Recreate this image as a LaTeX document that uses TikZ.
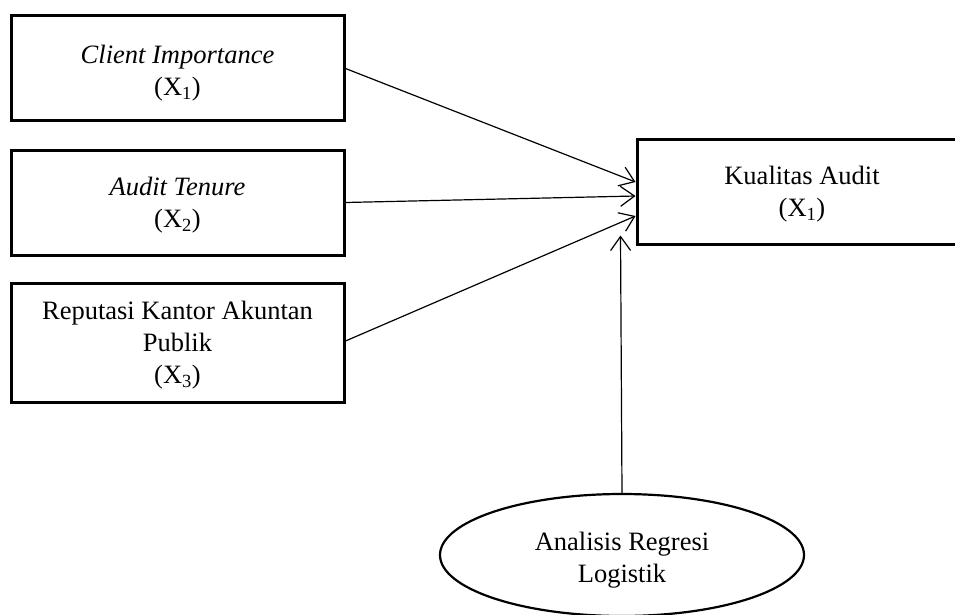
\documentclass[tikz,border=0pt]{standalone}
\usepackage{fontspec}
\setmainfont{Liberation Serif}
\usetikzlibrary{arrows.meta,shapes.geometric,calc}
\newcommand{\dropby}[3][320pt]{\raisebox{-#2}[\height][\depth]{\parbox{#1}{\centering #3}}}
\begin{document}
\begin{tikzpicture}[x=1pt,y=-1pt,
  box/.style={draw,line width=3pt,inner sep=0pt,align=center,
    font=\fontsize{26.5}{32}\selectfont},
  conn/.style={line width=1.2pt,-{Straight Barb[length=14pt,width=20pt,line width=1.2pt]}}]
\useasboundingbox (0,0) rectangle (955,615);
\clip (0,0) rectangle (955,615);
\node[box,minimum width=333pt,minimum height=105pt] (b1) at (177.5,68.5)
  {\dropby{5pt}{\textit{Client Importance}\\(X\textsubscript{1})}};
\node[box,minimum width=333pt,minimum height=105pt] (b2) at (177.5,202.5)
  {\dropby{3pt}{\textit{Audit Tenure}\\(X\textsubscript{2})}};
\node[box,minimum width=333pt,minimum height=119pt] (b3) at (177.5,342.5)
  {\dropby{3pt}{Reputasi Kantor Akuntan\\Publik\\(X\textsubscript{3})}};
\node[box,minimum width=330pt,minimum height=105pt] (k) at (802,191.5)
  {\dropby{3pt}{Kualitas Audit\\(X\textsubscript{1})}};
\node[box,ellipse,line width=2.2pt,inner sep=0pt,minimum width=364pt,minimum height=122pt] (e) at (622,555)
  {\dropby[200pt]{5pt}{Analisis Regresi\\Logistik}};
\coordinate (t1) at ($(k.west)+(0,-9.5)$);
\coordinate (t2) at ($(k.west)+(0,4.5)$);
\coordinate (t3) at ($(k.west)+(0,24.5)$);
\coordinate (t4) at ($(k.south west)+(-15,-10)$);
\draw[conn] (b1.east) -- (t1);
\draw[conn] (b2.east) -- (t2);
\draw[conn] ($(b3.east)+(0,-1.5)$) -- (t3);
\draw[conn] (e.north) -- (t4);
\end{tikzpicture}
\end{document}
